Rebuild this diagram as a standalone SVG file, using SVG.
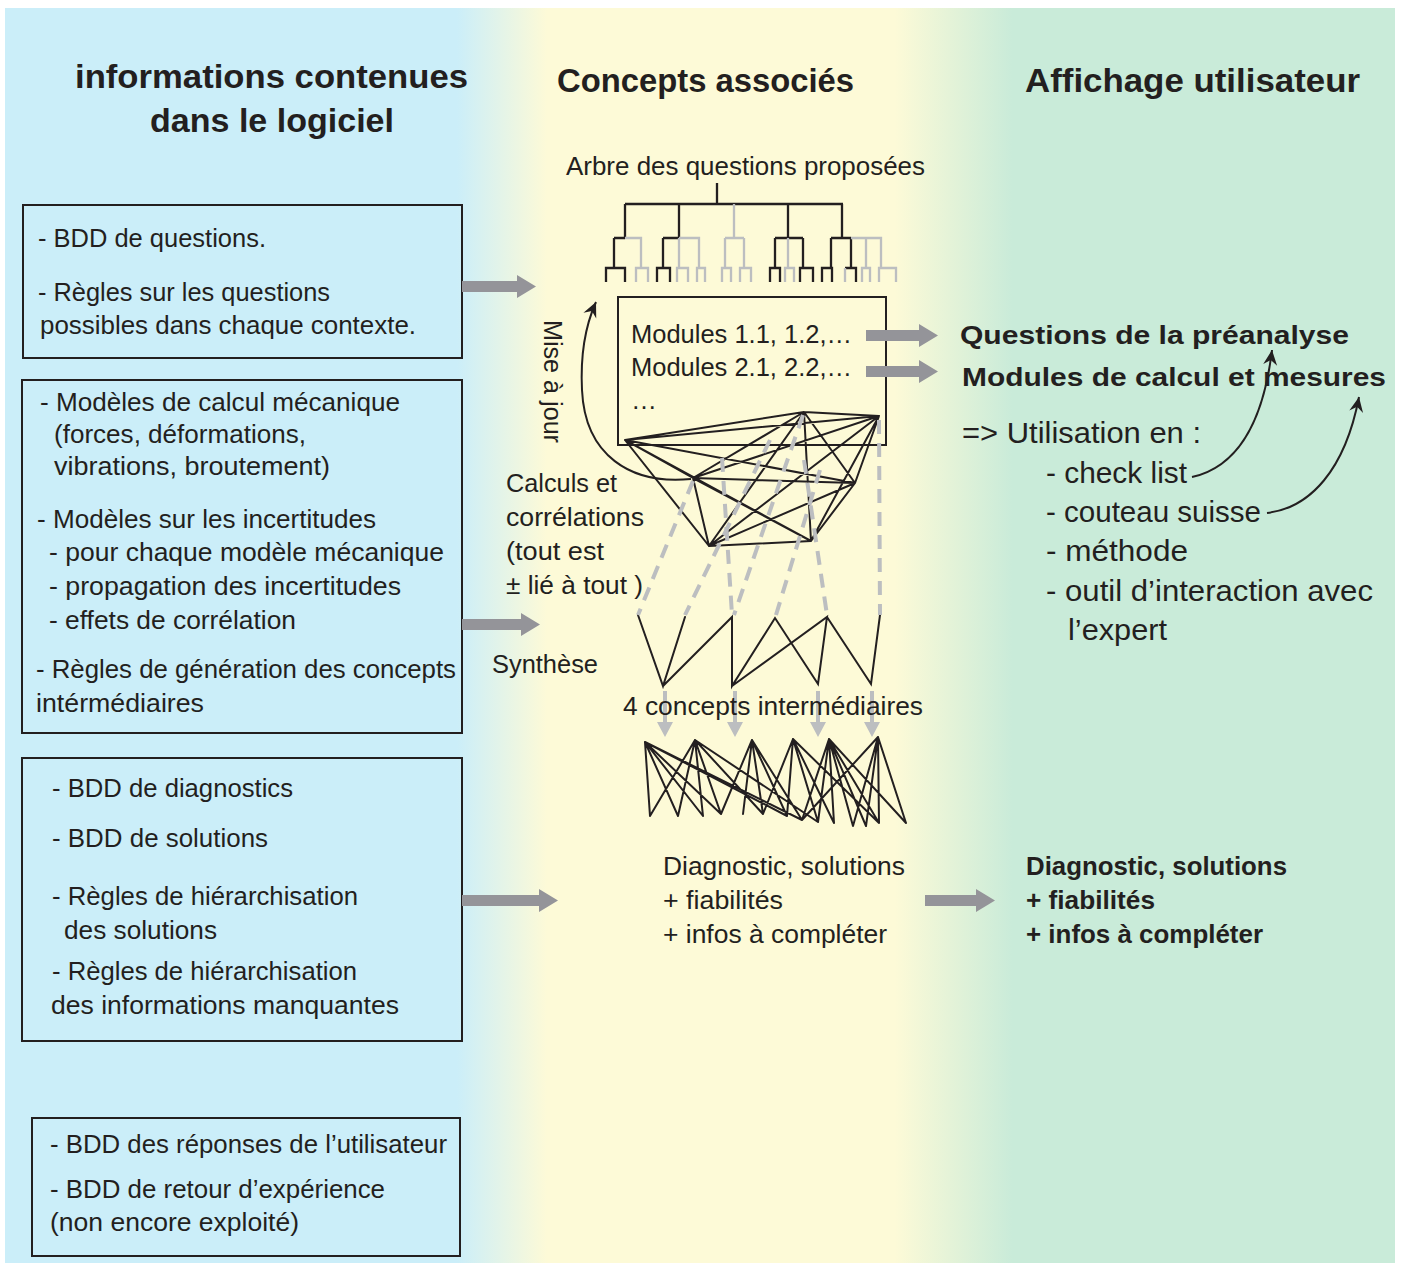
<svg xmlns="http://www.w3.org/2000/svg" width="1402" height="1267" viewBox="0 0 1402 1267">
<defs>
<linearGradient id="bg" x1="0" y1="0" x2="1" y2="0">
<stop offset="0" stop-color="#cbeef9"/>
<stop offset="0.325" stop-color="#cbeef9"/>
<stop offset="0.39" stop-color="#fdfad7"/>
<stop offset="0.64" stop-color="#fdfad7"/>
<stop offset="0.725" stop-color="#c9ebd9"/>
<stop offset="1" stop-color="#c9ebd9"/>
</linearGradient>
<marker id="ah" viewBox="-16 -8 18 16" refX="0" refY="0" markerWidth="18" markerHeight="16" markerUnits="userSpaceOnUse" orient="auto">
<path d="M0,0 L-15,-7 L-10,0 L-15,7 Z" fill="#231f20"/>
</marker>
<style>
text{font-family:"Liberation Sans",Arial,sans-serif;fill:#231f20;font-size:26px}
.title{font-weight:bold;font-size:34px}
.bold{font-weight:bold}
.big{font-size:29px}
.box{fill:none;stroke:#231f20;stroke-width:2}
.blk{stroke:#231f20;stroke-width:2.3;fill:none}
.gry{stroke:#bcbec0;stroke-width:2.3;fill:none}
.dash{stroke:#bcbec0;stroke-width:4;fill:none;stroke-dasharray:14 9}
.net{stroke:#231f20;stroke-width:2;fill:none;stroke-linecap:round}
.garrow{fill:#949499}
.carrow{fill:#bcbec0}
.curve{stroke:#231f20;stroke-width:2;fill:none;marker-end:url(#ah)}
</style>
</defs>
<rect x="5" y="8" width="1390" height="1255" fill="url(#bg)"/>

<g id="titles">
<text class="title" x="75" y="88" textLength="393" lengthAdjust="spacingAndGlyphs">informations contenues</text>
<text class="title" x="150" y="132" textLength="244" lengthAdjust="spacingAndGlyphs">dans le logiciel</text>
<text class="title" x="557" y="92" textLength="297" lengthAdjust="spacingAndGlyphs">Concepts associés</text>
<text class="title" x="1025" y="92" textLength="335" lengthAdjust="spacingAndGlyphs">Affichage utilisateur</text>
</g>

<g id="box-questions">
<rect class="box" x="23" y="205" width="439" height="153"/>
<text x="38" y="247" textLength="228" lengthAdjust="spacingAndGlyphs">- BDD de questions.</text>
<text x="38" y="301" textLength="292" lengthAdjust="spacingAndGlyphs">- Règles sur les questions</text>
<text x="40" y="334" textLength="376" lengthAdjust="spacingAndGlyphs">possibles dans chaque contexte.</text>
</g>

<g id="box-modeles">
<rect class="box" x="22" y="380" width="440" height="353"/>
<text x="40" y="411" textLength="360" lengthAdjust="spacingAndGlyphs">- Modèles de calcul mécanique</text>
<text x="54" y="443" textLength="252" lengthAdjust="spacingAndGlyphs">(forces, déformations,</text>
<text x="54" y="475" textLength="276" lengthAdjust="spacingAndGlyphs">vibrations, broutement)</text>
<text x="37" y="528" textLength="339" lengthAdjust="spacingAndGlyphs">- Modèles sur les incertitudes</text>
<text x="49" y="561" textLength="395" lengthAdjust="spacingAndGlyphs">- pour chaque modèle mécanique</text>
<text x="49" y="595" textLength="352" lengthAdjust="spacingAndGlyphs">- propagation des incertitudes</text>
<text x="49" y="629" textLength="247" lengthAdjust="spacingAndGlyphs">- effets de corrélation</text>
<text x="36" y="678" textLength="420" lengthAdjust="spacingAndGlyphs">- Règles de génération des concepts</text>
<text x="36" y="712" textLength="168" lengthAdjust="spacingAndGlyphs">intérmédiaires</text>
</g>

<g id="box-diagnostics">
<rect class="box" x="22" y="758" width="440" height="283"/>
<text x="52" y="797" textLength="241" lengthAdjust="spacingAndGlyphs">- BDD de diagnostics</text>
<text x="52" y="847" textLength="216" lengthAdjust="spacingAndGlyphs">- BDD de solutions</text>
<text x="52" y="905" textLength="306" lengthAdjust="spacingAndGlyphs">- Règles de hiérarchisation</text>
<text x="64" y="939" textLength="153" lengthAdjust="spacingAndGlyphs">des solutions</text>
<text x="52" y="980" textLength="305" lengthAdjust="spacingAndGlyphs">- Règles de hiérarchisation</text>
<text x="51" y="1014" textLength="348" lengthAdjust="spacingAndGlyphs">des informations manquantes</text>
</g>

<g id="box-reponses">
<rect class="box" x="32" y="1118" width="428" height="138"/>
<text x="50" y="1153" textLength="397" lengthAdjust="spacingAndGlyphs">- BDD des réponses de l’utilisateur</text>
<text x="50" y="1198" textLength="335" lengthAdjust="spacingAndGlyphs">- BDD de retour d’expérience</text>
<text x="50" y="1231" textLength="249" lengthAdjust="spacingAndGlyphs">(non encore exploité)</text>
</g>

<g id="tree">
<text x="566" y="175" textLength="359" lengthAdjust="spacingAndGlyphs">Arbre des questions proposées</text>
<path class="blk" d="M717,183 V204 M625,204 H843 M625,204 V238 M679,204 V238 M788,204 V238 M842,204 V238"/>
<path class="gry" d="M734,204 V238"/>
<path class="blk" d="M614,238 H625 M614,238 V268 M663,238 H679 M663,238 V268 M775,238 H803 M775,238 V268 M803,238 V268 M831,238 H851 M831,238 V268 M851,238 V268"/>
<path class="gry" d="M625,238 H641 V268 M679,238 H699 V268 M679,238 V268 M725,238 H744 M725,238 V268 M744,238 V268 M788,238 V268 M851,238 H881 V268 M866,238 V268"/>
<path class="blk" d="M606,282 V268 H625 V282 M657,282 V268 H670 V282 M770,282 V268 H780 V282 M800,282 V268 H813 V282 M822,282 V268 H832 V282 M845,268 H856 V282"/>
<path class="gry" d="M636,282 V268 H648 V282 M677,282 V268 H688 V282 M697,282 V268 H705 V282 M722,282 V268 H731 V282 M740,282 V268 H751 V282 M785,282 V268 H794 V282 M845,268 V282 M862,282 V268 H870 V282 M879,282 V268 H896 V282"/>
</g>

<g id="modules-box">
<rect class="box" x="618" y="297" width="268" height="148"/>
<text x="631" y="343" textLength="221" lengthAdjust="spacingAndGlyphs">Modules 1.1, 1.2,…</text>
<text x="631" y="376" textLength="221" lengthAdjust="spacingAndGlyphs">Modules 2.1, 2.2,…</text>
<text x="631" y="409">…</text>
</g>

<g id="network-calculs">
<path class="net" d="M625,440 L804,412 M625,440 L879,416 M625,440 L693,478 M625,440 L855,483 M625,440 L709,546 M625,440 L811,541 M804,412 L879,416 M804,412 L693,478 M804,412 L855,483 M804,412 L709,546 M804,412 L811,541 M879,416 L693,478 M879,416 L855,483 M879,416 L709,546 M879,416 L811,541 M693,478 L855,483 M693,478 L709,546 M693,478 L811,541 M855,483 L709,546 M855,483 L811,541 M709,546 L811,541"/>
</g>

<g id="synthese">
<path class="net" d="M638,615 L663,686 L685,617 M663,686 L732,617 L732,686 L775,618 L818,684 L827,617 L732,686 M827,617 L871,684 L880,615"/>
</g>

<g id="concepts-network">
<path class="net" d="M645,742 L650,816 M645,742 L678,816 M645,742 L703,816 M645,742 L721,814 M645,742 L787,816 M645,742 L802,820
M695,740 L650,816 M695,740 L678,816 M695,740 L703,816 M695,740 L721,814 M695,740 L763,814 M695,740 L818,822
M752,740 L721,814 M752,740 L743,814 M752,740 L763,814 M752,740 L787,816 M752,740 L802,820
M793,739 L763,814 M793,739 L787,816 M793,739 L818,822 M793,739 L834,823 M793,739 L879,823
M829,739 L802,820 M829,739 L818,822 M829,739 L834,823 M829,739 L853,826 M829,739 L866,826 M829,739 L879,823 M829,739 L906,823
M878,737 L802,820 M878,737 L853,826 M878,737 L866,826 M878,737 L879,823 M878,737 L906,823"/>
</g>

<g id="connectors">
<path class="dash" d="M693,481 L638,615"/>
<path class="dash" d="M770,440 L685,615"/>
<path class="dash" d="M722,458 L732,615"/>
<path class="dash" d="M803,415 L734,615"/>
<path class="dash" d="M820,470 L776,615"/>
<path class="dash" d="M804,460 L827,615"/>
<path class="dash" d="M879,420 L880,615"/>
<path class="carrow" d="M663,691 h4 v31 h6 l-8,15 l-8,-15 h6 z"/>
<path class="carrow" d="M733,691 h4 v31 h6 l-8,15 l-8,-15 h6 z"/>
<path class="carrow" d="M816,691 h4 v31 h6 l-8,15 l-8,-15 h6 z"/>
<path class="carrow" d="M870,691 h4 v31 h6 l-8,15 l-8,-15 h6 z"/>
<path class="garrow" d="M462,281 H517 V275 L536,286.5 L517,298 V292 H462 Z"/>
<path class="garrow" d="M462,619 H521 V613 L540,624.5 L521,636 V630 H462 Z"/>
<path class="garrow" d="M462,895 H539 V889 L558,900.5 L539,912 V906 H462 Z"/>
<path class="garrow" d="M866,330 H919 V324 L938,335.5 L919,347 V341 H866 Z"/>
<path class="garrow" d="M866,366 H919 V360 L938,371.5 L919,383 V377 H866 Z"/>
<path class="garrow" d="M925,895 H976 V889 L995,900.5 L976,912 V906 H925 Z"/>
<path class="curve" d="M691,479 C630,485 585,455 582,390 C580,350 587,322 596,302"/>
<path class="curve" d="M1192,477 C1232,468 1262,432 1272,350"/>
<path class="curve" d="M1267,513 C1310,508 1345,470 1359,397"/>
</g>

<g id="labels-middle">
<text transform="translate(544,320) rotate(90)" font-size="25" textLength="123" lengthAdjust="spacingAndGlyphs">Mise à jour</text>
<text x="506" y="492" textLength="111" lengthAdjust="spacingAndGlyphs">Calculs et</text>
<text x="506" y="526" textLength="138" lengthAdjust="spacingAndGlyphs">corrélations</text>
<text x="506" y="560" textLength="98" lengthAdjust="spacingAndGlyphs">(tout est</text>
<text x="506" y="594" textLength="137" lengthAdjust="spacingAndGlyphs">± lié à tout )</text>
<text x="492" y="673" textLength="106" lengthAdjust="spacingAndGlyphs">Synthèse</text>
<text x="623" y="715" textLength="300" lengthAdjust="spacingAndGlyphs">4 concepts intermédiaires</text>
<text x="663" y="875" textLength="242" lengthAdjust="spacingAndGlyphs">Diagnostic, solutions</text>
<text x="663" y="909" textLength="120" lengthAdjust="spacingAndGlyphs">+ fiabilités</text>
<text x="663" y="943" textLength="224" lengthAdjust="spacingAndGlyphs">+ infos à compléter</text>
</g>

<g id="affichage">
<text class="bold" x="960" y="344" font-size="31" textLength="389" lengthAdjust="spacingAndGlyphs">Questions de la préanalyse</text>
<text class="bold" x="962" y="386" font-size="31" textLength="424" lengthAdjust="spacingAndGlyphs">Modules de calcul et mesures</text>
<text class="big" x="962" y="443" textLength="239" lengthAdjust="spacingAndGlyphs">=&gt; Utilisation en :</text>
<text class="big" x="1046" y="483" textLength="141" lengthAdjust="spacingAndGlyphs">- check list</text>
<text class="big" x="1046" y="522" textLength="215" lengthAdjust="spacingAndGlyphs">- couteau suisse</text>
<text class="big" x="1046" y="561" textLength="142" lengthAdjust="spacingAndGlyphs">- méthode</text>
<text class="big" x="1046" y="601" textLength="327" lengthAdjust="spacingAndGlyphs">- outil d’interaction avec</text>
<text class="big" x="1068" y="640" textLength="99" lengthAdjust="spacingAndGlyphs">l’expert</text>
<text class="bold" x="1026" y="875" textLength="261" lengthAdjust="spacingAndGlyphs">Diagnostic, solutions</text>
<text class="bold" x="1026" y="909" textLength="129" lengthAdjust="spacingAndGlyphs">+ fiabilités</text>
<text class="bold" x="1026" y="943" textLength="237" lengthAdjust="spacingAndGlyphs">+ infos à compléter</text>
</g>
</svg>
